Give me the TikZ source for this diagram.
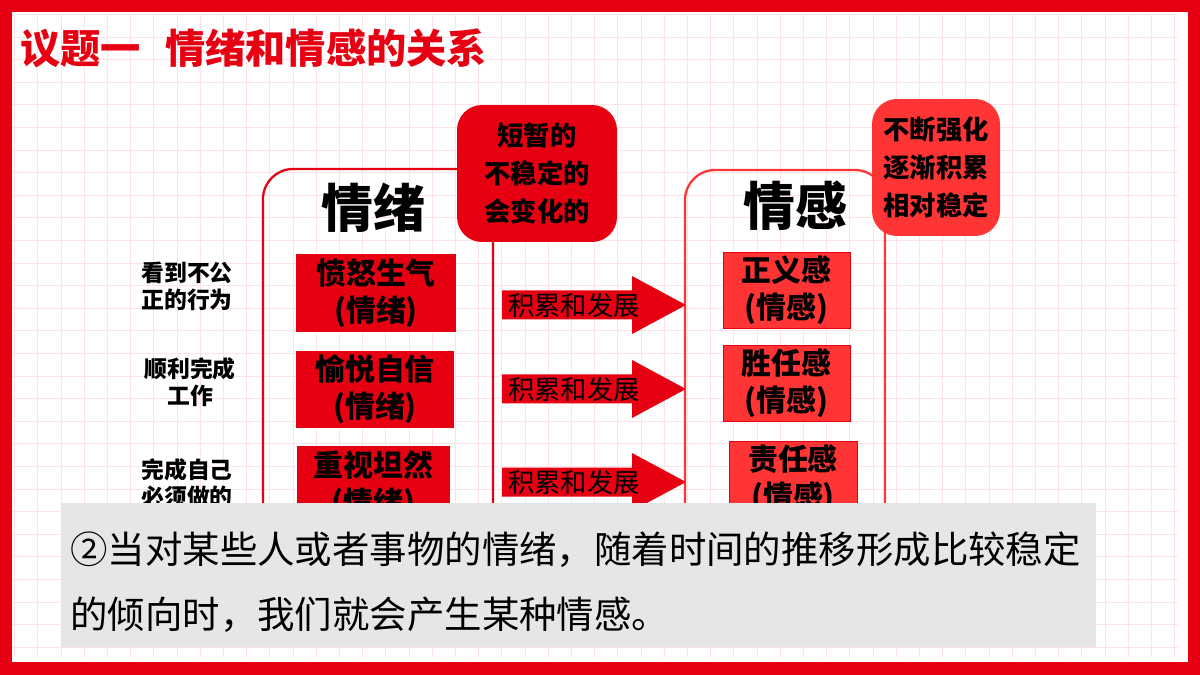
\documentclass[tikz,border=0pt]{standalone}
\usepackage{fontspec}
\setmainfont{Noto Sans CJK SC}
\usepackage{xcolor}

\definecolor{deepred}{HTML}{E60012}
\definecolor{softred}{HTML}{FF3535}
\definecolor{gridpink}{HTML}{FDE3E7}
\definecolor{notegray}{HTML}{E6E6E6}

\begin{document}
\begin{tikzpicture}[x=0.02cm, y=-0.02cm, font=\small]

    % Styles for the boxes and labels
    \tikzset{
        emobox/.style={fill=deepred, inner sep=0pt, align=center,
            font=\fontsize{17}{21}\selectfont\bfseries},
        feelbox/.style={fill=softred, draw=deepred, line width=0.4pt, inner sep=0pt, align=center,
            font=\fontsize{17}{21}\selectfont\bfseries},
        cuebox/.style={rounded corners=0.5cm, inner sep=0pt, align=center,
            font=\fontsize{15}{21.5}\selectfont\bfseries},
        causelabel/.style={inner sep=0pt, align=center,
            font=\fontsize{13}{15.3}\selectfont\bfseries},
        heading/.style={inner sep=0pt, font=\fontsize{29.5}{30}\selectfont\bfseries},
        growlabel/.style={inner sep=0pt, font=\fontsize{15}{18}\selectfont}
    }
    \useasboundingbox (0,0) rectangle (1200,675);

    % ==========================================
    % Frame and grid paper
    % ==========================================
    \fill[deepred] (0,0) rectangle (1200,675);
    \fill[white] (12,12) rectangle (1188,662);
    \foreach \i in {0,...,50}
        \draw[gridpink, line width=0.45pt] (14.5+23.2*\i,14) -- (14.5+23.2*\i,657);
    \foreach \j in {0,...,28}
        \draw[gridpink, line width=0.45pt] (12,14.4+22.6*\j) -- (1178,14.4+22.6*\j);

    % Title
    \node[anchor=west, inner sep=0pt, text=deepred, font=\fontsize{22.9}{24}\selectfont\bfseries]
        (title) at (20,48) {议题一\hspace{0.6em}情绪和情感的关系};

    % ==========================================
    % Two columns
    % ==========================================
    \draw[deepred, line width=1.3pt, rounded corners=0.6cm] (263,600) -- (263,169) -- (493,169) -- (493,600);
    \draw[softred, line width=1.3pt, rounded corners=0.6cm] (685,600) -- (685,170) -- (885,170) -- (885,600);

    \node[cuebox, fill=deepred, minimum width=3.2cm, minimum height=2.74cm]
        (brief) at (537,173.5) {短暂的\\不稳定的\\会变化的};
    \node[cuebox, fill=softred, minimum width=2.56cm, minimum height=2.74cm]
        (steady) at (936,167.5) {不断强化\\逐渐积累\\相对稳定};

    \node[heading] (emotion) at (373,208) {情绪};
    \node[heading] (feeling) at (795,206) {情感};

    % Left column: emotions
    \node[emobox, minimum width=3.2cm, minimum height=1.56cm] (anger) at (376,293) {愤怒生气\\(情绪)};
    \node[emobox, minimum width=3.16cm, minimum height=1.54cm] (joy) at (375,389.5) {愉悦自信\\(情绪)};
    \node[emobox, minimum width=3.06cm, minimum height=1.56cm] (calm) at (373.5,485) {重视坦然\\(情绪)};

    % Right column: feelings
    \node[feelbox, minimum width=2.54cm, minimum height=1.52cm] (justice) at (786.5,290) {正义感\\(情感)};
    \node[feelbox, minimum width=2.54cm, minimum height=1.52cm] (competent) at (786.5,383) {胜任感\\(情感)};
    \node[feelbox, minimum width=2.56cm, minimum height=1.52cm] (duty) at (793,479) {责任感\\(情感)};

    % Causes on the left
    \node[causelabel] (unfair) at (187,286.5) {看到不公\\正的行为};
    \node[causelabel] (done) at (190,382.5) {顺利完成\\工作};
    \node[causelabel] (must) at (187,483) {完成自己\\必须做的};

    % Block arrows between the columns
    \foreach \y/\n in {305/1, 389/2, 482/3} {
        \fill[deepred] (502,\y-14.5) -- (632,\y-14.5) -- (632,\y-29) -- (686,\y)
            -- (632,\y+29) -- (632,\y+14.5) -- (502,\y+14.5) -- cycle;
        \node[growlabel] (grow\n) at (574,\y) {积累和发展};
    }

    % ==========================================
    % Note at the bottom
    % ==========================================
    \fill[notegray] (61,503) rectangle (1096,647);
    \node[anchor=west, inner sep=0pt, align=left, font=\fontsize{21.3}{37}\selectfont]
        (remark) at (70,582.5) {②当对某些人或者事物的情绪，随着时间的推移形成比较稳定\\的倾向时，我们就会产生某种情感。};

\end{tikzpicture}
\end{document}
